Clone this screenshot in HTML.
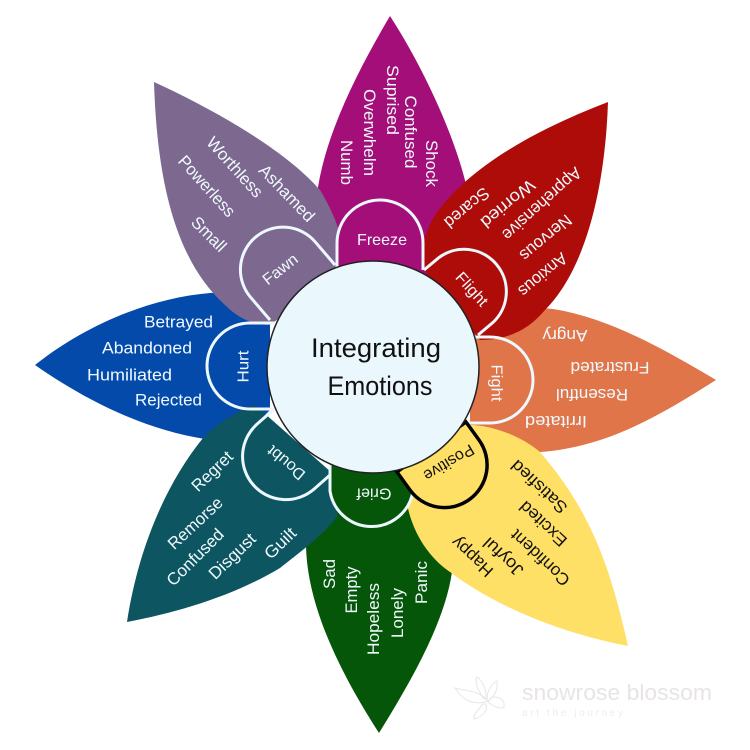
<!DOCTYPE html>
<html><head><meta charset="utf-8"><style>
html,body{margin:0;padding:0;background:#fff}
svg{display:block}
text{font-family:"Liberation Sans",sans-serif;text-anchor:middle;font-size:17px;fill:#f0f9fd}
.k{fill:#111}
.s{fill:none;stroke:#ecf8fd;stroke-width:3}
</style></head><body>
<svg width="750" height="750" viewBox="0 0 750 750" xmlns="http://www.w3.org/2000/svg">
<rect width="750" height="750" fill="#fff"/>
<path fill="#a40e78" d="M390 16C355 75 320 145 316 205L316 290 470 290 470 205C462 150 425 70 390 16Z"/>
<path fill="#e0754a" d="M716 380C665 350 610 318 553 309C520 305 490 320 470 335L470 425C490 445 515 453 540 452C610 447 665 412 716 380Z"/>
<path fill="#034aab" d="M35 365C85 325 150 298 210 293C235 292 250 300 270 320L270 410 240 440 205 439C145 430 85 400 35 365Z"/>
<path fill="#06560a" d="M379 733C345 680 307 610 306 545C306 520 315 510 330 490L410 500 420 530 452 572C445 620 415 675 379 733Z"/>
<path fill="#ad0c09" d="M608 102C540 128 470 165 435 215C420 240 420 260 430 280L480 340C510 340 530 328 545 310C585 270 605 190 608 102Z"/>
<path fill="#ffe066" d="M628 646C610 565 590 510 540 452C520 435 490 425 470 425L405 490C408 525 425 555 450 572C500 610 570 635 628 646Z"/>
<path fill="#0c5561" d="M127 622C138 550 165 485 203 438C215 425 235 412 255 405L340 480 337 517C320 538 300 552 280 568C235 595 180 612 127 622Z"/>
<path fill="#7d6890" d="M154 82C157 180 175 260 225 305C240 320 255 325 270 325L345 270C345 240 335 215 320 190C285 150 215 110 154 82Z"/>

<path fill="#a40e78" stroke="none" d="M337 290L337 243A43 43 0 0 1 423 243L423 290Z"/>
<path class="s" d="M337 270L337 243A43 43 0 0 1 423 243L423 270"/>
<path class="s" d="M424 270L438.6 257.8A42.3 42.3 0 0 1 492.6 322.8L478 335"/>
<path class="s" d="M475 337L490 337A43 43 0 0 1 490 423L466 423"/>
<path fill="#06560a" stroke="none" d="M330 450L330 491A42 42 0 0 0 413 491L413 450Z"/>
<path class="s" d="M330 465L330 491A42 42 0 0 0 413 491L413 470"/>
<path class="s" d="M273 410L257.3 423.9A43 43 0 0 0 314.3 488.9L330 475"/>
<path class="s" d="M275 323L250 323A43 43 0 0 0 250 409L275 409"/>
<path class="s" d="M270 320L250.5 297.2A42.5 42.5 0 0 1 315.5 242.2L335 265"/>
<path fill="#ffe066" stroke="#000" stroke-width="3.5" d="M466 422L479 440A42.5 42.5 0 0 1 410 490L397 472Z"/>

<circle cx="373" cy="367" r="106" fill="#eaf8fe" stroke="#222" stroke-width="1.5"/>
<text class="k" x="376" y="357" style="font-size:27px" textLength="130" lengthAdjust="spacingAndGlyphs">Integrating</text>
<text class="k" x="380" y="395" style="font-size:27px" textLength="105" lengthAdjust="spacingAndGlyphs">Emotions</text>

<!-- Freeze -->
<text x="382" y="245" style="font-size:16px" textLength="50" lengthAdjust="spacingAndGlyphs">Freeze</text>
<text transform="translate(432 163.500) rotate(90)" dy=".35em" textLength="47" lengthAdjust="spacingAndGlyphs">Shock</text>
<text transform="translate(411 132) rotate(90)" dy=".35em" textLength="73" lengthAdjust="spacingAndGlyphs">Confused</text>
<text transform="translate(393 100) rotate(90)" dy=".35em" textLength="70" lengthAdjust="spacingAndGlyphs">Suprised</text>
<text transform="translate(370 132.500) rotate(90)" dy=".35em" textLength="87" lengthAdjust="spacingAndGlyphs">Overwhelm</text>
<text transform="translate(347 162.500) rotate(90)" dy=".35em" textLength="45" lengthAdjust="spacingAndGlyphs">Numb</text>

<!-- Flight -->
<text transform="translate(472 289) rotate(48)" dy=".35em" style="font-size:16px" textLength="40" lengthAdjust="spacingAndGlyphs">Flight</text>
<text transform="translate(543 275) rotate(140)" dy=".35em" textLength="58" lengthAdjust="spacingAndGlyphs">Anxious</text>
<text transform="translate(546 238) rotate(140)" dy=".35em" textLength="62" lengthAdjust="spacingAndGlyphs">Nervous</text>
<text transform="translate(542 204) rotate(138)" dy=".35em" textLength="100" lengthAdjust="spacingAndGlyphs">Apprehensive</text>
<text transform="translate(508 204) rotate(140)" dy=".35em" textLength="65" lengthAdjust="spacingAndGlyphs">Worried</text>
<text transform="translate(467 208) rotate(140)" dy=".35em" textLength="53" lengthAdjust="spacingAndGlyphs">Scared</text>

<!-- Fight -->
<text transform="translate(497 383) rotate(90)" dy=".35em" style="font-size:16px" textLength="37" lengthAdjust="spacingAndGlyphs">Fight</text>
<text transform="translate(565 336) rotate(180)" dy=".35em" textLength="45" lengthAdjust="spacingAndGlyphs">Angry</text>
<text transform="translate(610 368) rotate(180)" dy=".35em" textLength="79" lengthAdjust="spacingAndGlyphs">Frustrated</text>
<text transform="translate(592 395) rotate(180)" dy=".35em" textLength="72" lengthAdjust="spacingAndGlyphs">Resentful</text>
<text transform="translate(556 422) rotate(180)" dy=".35em" textLength="62" lengthAdjust="spacingAndGlyphs">Irritated</text>

<!-- Positive -->
<text class="k" transform="translate(449 463) rotate(149)" dy=".35em" style="font-size:16px" textLength="56" lengthAdjust="spacingAndGlyphs">Positive</text>
<text class="k" transform="translate(539 487) rotate(223)" dy=".35em" textLength="70" lengthAdjust="spacingAndGlyphs">Satisfied</text>
<text class="k" transform="translate(543 524) rotate(223)" dy=".35em" textLength="58" lengthAdjust="spacingAndGlyphs">Excited</text>
<text class="k" transform="translate(540 558) rotate(223)" dy=".35em" textLength="74" lengthAdjust="spacingAndGlyphs">Confident</text>
<text class="k" transform="translate(503 557) rotate(223)" dy=".35em" textLength="48" lengthAdjust="spacingAndGlyphs">Joyful</text>
<text class="k" transform="translate(472 557) rotate(223)" dy=".35em" textLength="50" lengthAdjust="spacingAndGlyphs">Happy</text>

<!-- Grief -->
<text transform="translate(374 494) rotate(180)" dy=".35em" style="font-size:16px" textLength="35" lengthAdjust="spacingAndGlyphs">Grief</text>
<text transform="translate(329 574) rotate(-90)" dy=".35em" textLength="30" lengthAdjust="spacingAndGlyphs">Sad</text>
<text transform="translate(351 590) rotate(-90)" dy=".35em" textLength="47" lengthAdjust="spacingAndGlyphs">Empty</text>
<text transform="translate(373 619) rotate(-90)" dy=".35em" textLength="72" lengthAdjust="spacingAndGlyphs">Hopeless</text>
<text transform="translate(397 613) rotate(-90)" dy=".35em" textLength="50" lengthAdjust="spacingAndGlyphs">Lonely</text>
<text transform="translate(421 582.500) rotate(-90)" dy=".35em" textLength="43" lengthAdjust="spacingAndGlyphs">Panic</text>

<!-- Doubt -->
<text transform="translate(286 463) rotate(220)" dy=".35em" style="font-size:16px" textLength="44" lengthAdjust="spacingAndGlyphs">Doubt</text>
<text transform="translate(212 471) rotate(-44)" dy=".35em" textLength="50" lengthAdjust="spacingAndGlyphs">Regret</text>
<text transform="translate(195 523) rotate(-43)" dy=".35em" textLength="68" lengthAdjust="spacingAndGlyphs">Remorse</text>
<text transform="translate(195 557) rotate(-45)" dy=".35em" textLength="73" lengthAdjust="spacingAndGlyphs">Confused</text>
<text transform="translate(232 556) rotate(-44)" dy=".35em" textLength="58" lengthAdjust="spacingAndGlyphs">Disgust</text>
<text transform="translate(280 543) rotate(-44)" dy=".35em" textLength="37" lengthAdjust="spacingAndGlyphs">Guilt</text>

<!-- Hurt -->
<text transform="translate(243 366.500) rotate(-90)" dy=".35em" style="font-size:16px" textLength="32" lengthAdjust="spacingAndGlyphs">Hurt</text>
<text x="178.500" y="327.500" textLength="69" lengthAdjust="spacingAndGlyphs">Betrayed</text>
<text x="147" y="353.500" textLength="90" lengthAdjust="spacingAndGlyphs">Abandoned</text>
<text x="129.500" y="380.500" textLength="85" lengthAdjust="spacingAndGlyphs">Humiliated</text>
<text x="168.500" y="405.500" textLength="67" lengthAdjust="spacingAndGlyphs">Rejected</text>

<!-- Fawn -->
<text transform="translate(280 269) rotate(-38)" dy=".35em" style="font-size:16px" textLength="40" lengthAdjust="spacingAndGlyphs">Fawn</text>
<text transform="translate(287 193) rotate(46)" dy=".35em" textLength="72" lengthAdjust="spacingAndGlyphs">Ashamed</text>
<text transform="translate(235 167) rotate(48)" dy=".35em" textLength="75" lengthAdjust="spacingAndGlyphs">Worthless</text>
<text transform="translate(207 186) rotate(48)" dy=".35em" textLength="76" lengthAdjust="spacingAndGlyphs">Powerless</text>
<text transform="translate(209 234) rotate(45)" dy=".35em" textLength="42" lengthAdjust="spacingAndGlyphs">Small</text>

<!-- Watermark -->
<g fill="none" stroke="#e9e5e5" stroke-width="1">
<path d="M488 701C478 690 470 692 455 688C462 700 474 706 488 701Z"/>
<path d="M483 704C476 712 473 716 474 719C483 717 488 710 486 704Z"/>
<path d="M488 702C495 708 505 710 504 706C505 700 498 695 491 698Z"/>
<path d="M484 699C478 690 474 682 477 677C482 680 487 690 486 699Z"/>
<path d="M487 699C487 690 492 684 497 681C498 689 495 696 488 701Z"/>
</g>
<text x="617" y="700" style="font-size:22px;fill:#e8e4e4" textLength="190" lengthAdjust="spacingAndGlyphs">snowrose blossom</text>
<text x="572.500" y="716" style="font-size:10px;fill:#efecec" textLength="101">art the journey</text>
</svg>
</body></html>
